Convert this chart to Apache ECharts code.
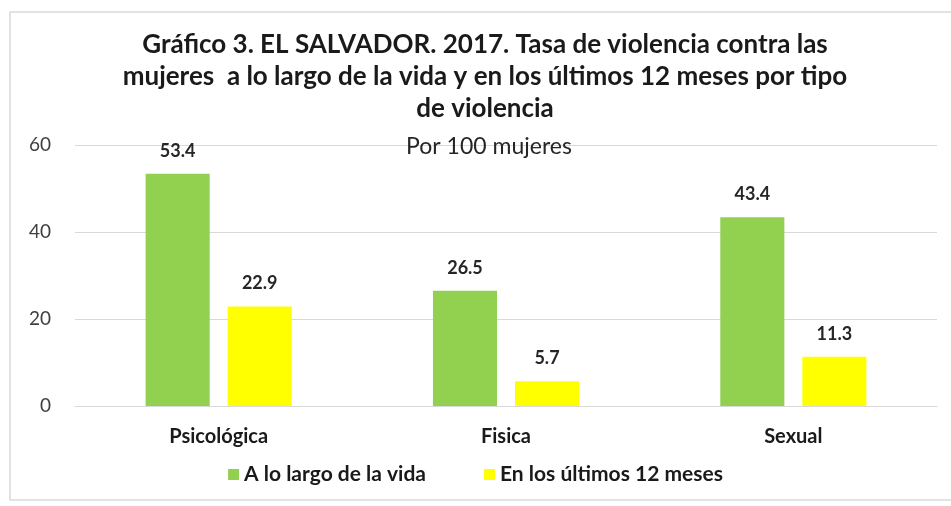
<!DOCTYPE html>
<html>
<head>
<meta charset="utf-8">
<script src="https://cdn.jsdelivr.net/npm/echarts@6/dist/echarts.min.js"></script>
<style>
  html, body { margin: 0; padding: 0; background: #fff; }
  #chart { width: 951px; height: 506px; }
</style>
</head>
<body>
<div id="chart"></div>
<script>
var categories = ['Psicológica', 'Fisica', 'Sexual']
var vidaValues = [53.4, 26.5, 43.4]
var mesesValues = [22.9, 5.7, 11.3]
var seriesNames = ['A lo largo de la vida', 'En los últimos 12 meses']
var yTicks = [0, 20, 40, 60]

var font = 'Lato'
var chart = echarts.init(document.getElementById('chart'))

var labelStyle = {
  show: true,
  position: 'top',
  distance: 14,
  fontFamily: font,
  fontWeight: 'bold',
  fontSize: 18,
  color: '#262626'
}

chart.setOption({
  animation: false,
  graphic: [
    {
      type: 'rect',
      shape: { x: 10, y: 12, width: 960, height: 488 },
      style: { fill: 'none', stroke: '#d9d9d9', lineWidth: 1.5 }
    }
  ],
  title: [
    {
      text: 'Gráfico 3. EL SALVADOR. 2017. Tasa de violencia contra las\nmujeres  a lo largo de la vida y en los últimos 12 meses por tipo\nde violencia',
      left: 480,
      textAlign: 'center',
      top: 24,
      textStyle: {
        fontFamily: font,
        fontWeight: 'bold',
        fontSize: 26,
        lineHeight: 32,
        color: '#1a1a1a'
      }
    },
    {
      text: 'Por 100 mujeres',
      left: 484,
      textAlign: 'center',
      top: 130,
      textStyle: {
        fontFamily: font,
        fontWeight: 'normal',
        fontSize: 23,
        color: '#262626'
      }
    }
  ],
  legend: {
    data: seriesNames,
    bottom: 16,
    left: 'center',
    itemWidth: 11,
    itemHeight: 11,
    itemGap: 58,
    icon: 'rect',
    textStyle: {
      fontFamily: font,
      fontWeight: 'bold',
      fontSize: 21,
      color: '#1a1a1a'
    }
  },
  grid: {
    left: 75,
    right: 14,
    top: 145,
    bottom: 100
  },
  xAxis: {
    type: 'category',
    data: categories,
    axisTick: { show: false },
    axisLine: { lineStyle: { color: '#d9d9d9', width: 1 } },
    axisLabel: {
      margin: 21,
      fontFamily: font,
      fontWeight: 'bold',
      fontSize: 20,
      color: '#1a1a1a'
    }
  },
  yAxis: {
    type: 'value',
    min: yTicks[0],
    max: yTicks[yTicks.length - 1],
    interval: 20,
    axisLine: { show: false },
    axisTick: { show: false },
    axisLabel: {
      margin: 24,
      fontFamily: font,
      fontSize: 19,
      color: '#404040'
    },
    splitLine: { lineStyle: { color: '#d9d9d9', width: 1 } }
  },
  series: [
    {
      name: seriesNames[0],
      type: 'bar',
      data: vidaValues,
      barWidth: '22.3%',
      barGap: '28%',
      itemStyle: { color: '#92d050' },
      label: labelStyle
    },
    {
      name: seriesNames[1],
      type: 'bar',
      data: mesesValues,
      barWidth: '22.3%',
      barGap: '28%',
      itemStyle: { color: '#ffff00' },
      label: labelStyle
    }
  ]
})
</script>
</body>
</html>
